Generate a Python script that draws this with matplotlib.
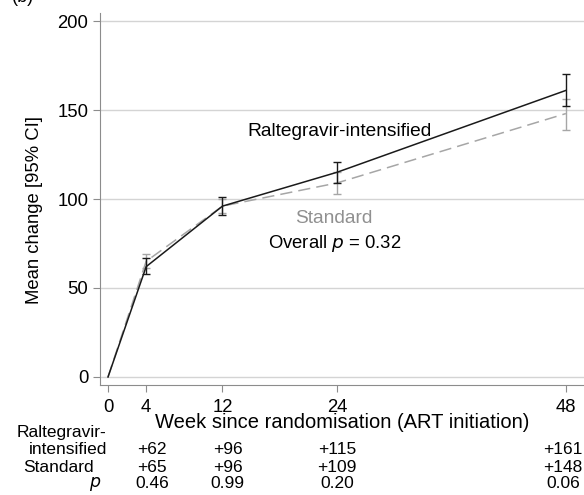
import numpy as np
import matplotlib
matplotlib.use("Agg")
import matplotlib.pyplot as plt

plt.rcParams['font.family'] = ['Liberation Sans', 'DejaVu Sans']

# data
weeks = [0, 4, 12, 24, 48]
ral_mean = [0, 62, 96, 115, 161]
ral_lo = [0, 58, 91, 109, 152]
ral_hi = [0, 67, 101, 121, 170]
std_mean = [0, 65, 96, 109, 148]
std_lo = [0, 61, 92, 103, 139]
std_hi = [0, 69, 100, 115, 156]

tab_weeks = [4, 12, 24, 48]
tab_ral = ['+62', '+96', '+115', '+161']
tab_std = ['+65', '+96', '+109', '+148']
tab_p = ['0.46', '0.99', '0.20', '0.06']

W, H = 584, 495
fig = plt.figure(figsize=(W / 100, H / 100), dpi=100)
ax = fig.add_axes([100 / W, 1 - 385 / H, 484 / W, 372 / H])


def fx(px):
    return px / W


def fy(py):
    return 1 - py / H


grey = '#a6a6a6'
ax.set_xlim(-0.84, 49.9)
ax.set_ylim(-4.5, 204.5)
ax.set_yticks([0, 50, 100, 150, 200])
ax.set_xticks(weeks)
ax.grid(axis='y', color='#d4d4d4', lw=1)
ax.set_axisbelow(True)
for s in ['top', 'right']:
    ax.spines[s].set_visible(False)
for s in ['left', 'bottom']:
    ax.spines[s].set_color('#8c8c8c')
ax.tick_params(colors='#8c8c8c', labelcolor='black', labelsize=13.3, length=5)
ax.tick_params(axis='x', pad=5)

# standard arm
e = [np.subtract(std_mean, std_lo)[1:], np.subtract(std_hi, std_mean)[1:]]
ax.plot(weeks, std_mean, color=grey, lw=1.1, dashes=(8, 4))
ax.errorbar(weeks[1:], std_mean[1:], yerr=e, fmt='none', ecolor=grey,
            elinewidth=1, capsize=3)
# raltegravir arm
e = [np.subtract(ral_mean, ral_lo)[1:], np.subtract(ral_hi, ral_mean)[1:]]
ax.plot(weeks, ral_mean, color='#1a1a1a', lw=1.1)
ax.errorbar(weeks[1:], ral_mean[1:], yerr=e, fmt='none', ecolor='#1a1a1a',
            elinewidth=1, capsize=3)

ax.text(24.3, 138, 'Raltegravir-intensified', ha='center', va='center', fontsize=13.8)
ax.text(23.7, 89, 'Standard', ha='center', va='center', fontsize=13.8, color='#909090')
ax.text(23.8, 75, 'Overall $p$ = 0.32', ha='center', va='center', fontsize=13.3)

fig.text(fx(35), fy(210), 'Mean change [95% CI]', rotation=90, ha='center',
         va='center', fontsize=13.3)
fig.text(fx(342), fy(423), 'Week since randomisation (ART initiation)',
         ha='center', va='center', fontsize=14.5)
fig.text(fx(12), fy(2), '(b)', ha='left', va='baseline', fontsize=13)

# table under the axis
ts = 12.5
fig.text(fx(61), fy(433), 'Raltegravir-', ha='center', va='center', fontsize=ts)
fig.text(fx(68), fy(450), 'intensified', ha='center', va='center', fontsize=ts)
fig.text(fx(59), fy(467), 'Standard', ha='center', va='center', fontsize=ts)
fig.text(fx(95), fy(484), '$p$', ha='center', va='center', fontsize=ts)
col_shift = [6, 5, 0, -3]
for wk, sh, a, b, c in zip(tab_weeks, col_shift, tab_ral, tab_std, tab_p):
    x = (ax.transData.transform((wk, 0))[0] + sh) / W
    fig.text(x, fy(450), a, ha='center', va='center', fontsize=ts)
    fig.text(x, fy(467), b, ha='center', va='center', fontsize=ts)
    fig.text(x, fy(484), c, ha='center', va='center', fontsize=ts)

fig.savefig('out.png', dpi=100)
